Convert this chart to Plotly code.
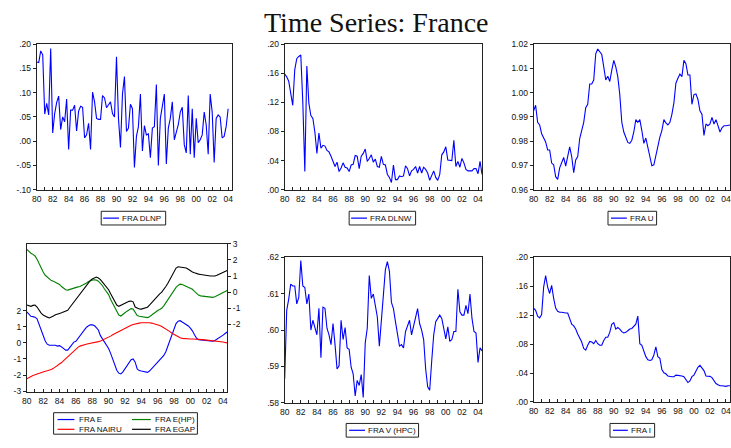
import plotly.graph_objects as go
import pandas as pd

W, H = 731, 448

quarters = pd.period_range("1980Q1", "2004Q3", freq="Q")
xq = [p.year + (p.quarter - 1) / 4 for p in quarters]

year_ticks = list(range(1980, 2005))
year_text = [str(y)[2:] if y % 2 == 0 else "" for y in year_ticks]

fra_dlnp = [.163, .162, .186, .178, .056, .078, .054, .191, .017, .057, .080, .093, .024, .050, .040, .087,
            -.017, .064, .064, .074, .021, .062, .072, .070, .007, .013, .037, -.017, .101, .081, .047, .045,
            .045, .094, .089, .069, .075, .081, .057, .050, .174, .047, -.013, .097, .133, .020, .027, .076,
            .067, -.054, .010, .030, .097, -.020, .032, .013, .015, -.034, .027, .030, .117, -.050, .047, .074,
            .097, -.047, .027, .047, .081, .003, .017, .034, .060, .070, -.007, -.024, .094, -.027, .067, -.034,
            .047, -.003, .003, .013, .060, .034, -.027, .097, .060, -.044, .047, .054, .050, .007, .010, .030,
            .067]

fra_dlnw = [.159, .155, .149, .135, .116, .165, .180, .183, .185, .120, .025, .170, .119, .102, .098, .079,
            .050, .078, .057, .061, .060, .054, .052, .046, .038, .032, .038, .025, .030, .037, .031, .030,
            .025, .034, .035, .047, .046, .029, .046, .050, .056, .039, .043, .048, .038, .042, .032, .031,
            .046, .035, .034, .021, .017, .010, .034, .014, .014, .019, .018, .019, .033, .029, .019, .026,
            .028, .032, .023, .032, .023, .031, .028, .023, .013, .021, .026, .017, .013, .021, .048, .052,
            .059, .041, .041, .040, .068, .032, .039, .031, .043, .037, .028, .026, .026, .026, .029, .029,
            .022, .039, .021]

fra_u = [.9925, .9948, .9878, .9867, .9831, .9817, .9797, .9764, .9764, .9710, .9703, .9654, .9643, .9690,
         .9713, .9733, .9697, .9744, .9777, .9737, .9670, .9723, .9737, .9811, .9851, .9878, .9938, .9952,
         1.0036, 1.0036, 1.0052, 1.0160, 1.0180, 1.0166, 1.0157, 1.0106, 1.0052, 1.0068, 1.0046, 1.0093,
         1.0133, 1.0106, 1.0066, .9992, .9878, .9838, .9817, .9795, .9791, .9804, .9838, .9889, .9878, .9889,
         .9844, .9791, .9813, .9770, .9737, .9699, .9703, .9744, .9770, .9817, .9844, .9889, .9875, .9867,
         .9878, .9911, .9958, 1.0039, 1.0059, 1.0077, 1.0066, 1.0133, 1.0119, 1.0073, 1.0073, .9952, .9992,
         .9995, .9972, .9925, .9911, .9824, .9871, .9864, .9871, .9898, .9871, .9889, .9864, .9838, .9855,
         .9864, .9864, .9864, .9867]

fra_e = [1.92, 1.75, 1.65, 1.63, 1.60, 1.50, 1.15, 0.70, 0.38, 0.12, -0.08, -0.15, -0.15, -0.13, -0.15, -0.20,
         -0.17, -0.25, -0.35, -0.45, -0.45, -0.30, -0.10, 0.05, 0.10, 0.28, 0.45, 0.62, 0.75, 0.95, 1.05, 1.12,
         1.12, 1.08, 0.95, 0.80, 0.45, 0.25, 0.05, -0.12, -0.35, -0.65, -1.00, -1.40, -1.70, -1.88, -1.93, -1.80,
         -1.60, -1.40, -1.20, -1.05, -1.00, -1.20, -1.62, -1.72, -1.75, -1.78, -1.80, -1.83, -1.75, -1.62, -1.45,
         -1.30, -1.18, -1.05, -0.93, -0.78, -0.55, -0.20, 0.15, 0.55, 0.90, 1.20, 1.35, 1.38, 1.30, 1.22, 1.15,
         1.05, 0.92, 0.75, 0.50, 0.30, 0.20, 0.18, 0.18, 0.15, 0.15, 0.12, 0.08, 0.10, 0.15, 0.22, 0.30, 0.38,
         0.48, 0.58, 0.68]

fra_nairu = [-2.23, -2.15, -2.08, -2.02, -1.98, -1.93, -1.88, -1.84, -1.80, -1.76, -1.73, -1.70, -1.65, -1.58,
             -1.50, -1.42, -1.32, -1.22, -1.10, -0.98, -0.85, -0.72, -0.58, -0.46, -0.36, -0.28, -0.20, -0.15,
             -0.11, -0.08, -0.05, -0.03, -0.01, 0.02, 0.05, 0.08, 0.12, 0.17, 0.22, 0.28, 0.35, 0.42, 0.50, 0.57,
             0.64, 0.72, 0.80, 0.87, 0.93, 0.99, 1.05, 1.10, 1.14, 1.18, 1.21, 1.23, 1.25, 1.26, 1.26, 1.26, 1.25,
             1.23, 1.20, 1.17, 1.13, 1.08, 1.02, 0.95, 0.88, 0.80, 0.70, 0.60, 0.52, 0.44, 0.38, 0.32, 0.28, 0.26,
             0.25, 0.24, 0.24, 0.24, 0.24, 0.23, 0.22, 0.21, 0.20, 0.19, 0.18, 0.17, 0.16, 0.15, 0.14, 0.12, 0.10,
             0.08, 0.06, 0.03, 0.00]

fra_e_hp = [2.66, 2.52, 2.42, 2.35, 2.25, 2.05, 1.75, 1.45, 1.25, 1.05, 0.92, 0.80, 0.72, 0.68, 0.62, 0.58, 0.48,
            0.35, 0.25, 0.15, 0.13, 0.18, 0.22, 0.28, 0.33, 0.33, 0.35, 0.40, 0.48, 0.55, 0.65, 0.72, 0.75, 0.77,
            0.75, 0.68, 0.55, 0.40, 0.20, 0.02, -0.15, -0.45, -0.70, -1.00, -1.25, -1.42, -1.48, -1.40, -1.28,
            -1.18, -1.08, -1.02, -1.05, -1.25, -1.45, -1.50, -1.52, -1.55, -1.57, -1.58, -1.52, -1.42, -1.32,
            -1.22, -1.14, -1.08, -1.00, -0.85, -0.65, -0.45, -0.25, -0.05, 0.12, 0.30, 0.42, 0.50, 0.48, 0.42,
            0.36, 0.30, 0.25, 0.18, 0.05, -0.08, -0.18, -0.23, -0.25, -0.25, -0.25, -0.27, -0.30, -0.32, -0.28,
            -0.22, -0.18, -0.12, -0.05, 0.02, 0.10]

fra_egap = [-0.80, -0.85, -0.88, -0.82, -0.80, -0.92, -1.15, -1.30, -1.42, -1.50, -1.55, -1.60, -1.55, -1.48,
            -1.40, -1.38, -1.32, -1.28, -1.22, -1.15, -1.12, -0.95, -0.78, -0.62, -0.45, -0.25, -0.10, 0.10,
            0.28, 0.45, 0.60, 0.72, 0.82, 0.90, 0.94, 0.88, 0.78, 0.62, 0.45, 0.33, 0.15, -0.10, -0.35, -0.60,
            -0.80, -0.88, -0.82, -0.72, -0.65, -0.60, -0.57, -0.55, -0.60, -0.92, -1.00, -1.04, -1.05, -1.02,
            -0.98, -0.93, -0.80, -0.65, -0.50, -0.35, -0.22, -0.10, 0.00, 0.15, 0.35, 0.55, 0.78, 1.05, 1.30,
            1.50, 1.58, 1.56, 1.54, 1.52, 1.50, 1.42, 1.32, 1.25, 1.20, 1.15, 1.12, 1.10, 1.07, 1.05, 1.04, 1.02,
            1.00, 0.98, 1.00, 1.05, 1.10, 1.15, 1.20, 1.27, 1.34]

fra_v_hpc = [.5866, .6054, .6085, .6126, .6121, .6121, .6072, .6090, .6191, .6121, .6117, .6072, .6099, .6000,
             .6027, .6009, .5987, .6060, .5924, .6063, .6060, .6005, .5987, .5960, .6018, .5960, .5893, .5902,
             .6027, .5974, .6007, .5951, .5947, .5898, .5880, .5819, .5862, .5848, .5878, .5815, .5965, .6005,
             .6150, .6087, .6099, .6068, .6036, .5956, .6032, .6090, .6166, .6188, .6161, .6076, .6059, .6023,
             .5987, .5956, .5960, .5951, .5996, .6009, .6027, .5987, .6009, .6036, .6059, .6018, .6000, .5974,
             .5893, .5844, .5835, .5915, .5987, .6023, .6032, .6041, .6032, .6005, .5976, .6009, .5969, .5974,
             .5996, .5996, .6112, .6050, .6041, .6041, .6068, .6045, .6099, .6032, .5996, .5992, .5911, .5951,
             .5943]

fra_i = [.1298, .1266, .1186, .1163, .1208, .1588, .1745, .1588, .1499, .1611, .1432, .1298, .1253, .1239,
         .1239, .1230, .1230, .1230, .1163, .1074, .1051, .1007, .0940, .0881, .0828, .0738, .0716, .0783,
         .0837, .0828, .0805, .0850, .0805, .0783, .0783, .0850, .0895, .0895, .0962, .1074, .1096, .1007,
         .1029, .1007, .0971, .0953, .0962, .0984, .1007, .1016, .1051, .1074, .1186, .0805, .0783, .0694,
         .0626, .0582, .0573, .0582, .0649, .0761, .0626, .0604, .0447, .0403, .0389, .0358, .0349, .0349,
         .0349, .0371, .0367, .0367, .0358, .0349, .0313, .0268, .0291, .0349, .0371, .0425, .0479, .0506,
         .0470, .0434, .0358, .0358, .0353, .0336, .0291, .0255, .0237, .0224, .0224, .0215, .0215, .0224,
         .0224]

BLUE, RED, GREEN, BLACK = "#0000ff", "#ff0000", "#008000", "#000000"
AX = "#222222"
TICKFONT = dict(family="Liberation Sans, Arial, sans-serif", size=8.5, color="#111")


def dx(a, b):
    return [a / W, b / W]


def dy(top, bottom):
    return [(H - bottom) / H, (H - top) / H]


fig = go.Figure()


def add(y, name, color, xa, ya):
    fig.add_trace(go.Scatter(x=xq[:len(y)], y=y, mode="lines", name=name,
                             line=dict(color=color, width=1.1), xaxis=xa, yaxis=ya,
                             showlegend=False, hoverinfo="x+y"))


add(fra_dlnp, "FRA DLNP", BLUE, "x", "y")
add(fra_dlnw, "FRA DLNW", BLUE, "x2", "y2")
add(fra_u, "FRA U", BLUE, "x3", "y3")
add(fra_e, "FRA E", BLUE, "x4", "y4")
add(fra_nairu, "FRA NAIRU", RED, "x4", "y4")
add(fra_e_hp, "FRA E(HP)", GREEN, "x4", "y7")
add(fra_egap, "FRA EGAP", BLACK, "x4", "y7")
add(fra_v_hpc, "FRA V (HPC)", BLUE, "x5", "y5")
add(fra_i, "FRA I", BLUE, "x6", "y6")

panels = {
    1: dict(x=(32, 229), y=(40, 189)),
    2: dict(x=(282, 481), y=(40, 189)),
    3: dict(x=(533, 731), y=(40, 189)),
    4: dict(x=(22, 224), y=(244, 396)),
    5: dict(x=(282, 481), y=(258, 407)),
    6: dict(x=(533, 731), y=(258, 406)),
}

yspec = {
    1: dict(range=[-0.10, 0.20], tickvals=[-.10, -.05, 0, .05, .10, .15, .20],
            ticktext=["-.10", "-.05", ".00", ".05", ".10", ".15", ".20"]),
    2: dict(range=[0, 0.20], tickvals=[0, .04, .08, .12, .16, .20],
            ticktext=[".00", ".04", ".08", ".12", ".16", ".20"]),
    3: dict(range=[0.96, 1.02], tickvals=[.96, .97, .98, .99, 1.00, 1.01, 1.02],
            ticktext=["0.96", "0.97", "0.98", "0.99", "1.00", "1.01", "1.02"]),
    4: dict(range=[-3.06, 6.17], tickvals=[-3, -2, -1, 0, 1, 2],
            ticktext=["-3", "-2", "-1", "0", "1", "2"]),
    5: dict(range=[0.58, 0.62], tickvals=[.58, .59, .60, .61, .62],
            ticktext=[".58", ".59", ".60", ".61", ".62"]),
    6: dict(range=[0, 0.20], tickvals=[0, .04, .08, .12, .16, .20],
            ticktext=[".00", ".04", ".08", ".12", ".16", ".20"]),
}

layout = dict(width=W, height=H, margin=dict(l=0, r=0, t=0, b=0),
              paper_bgcolor="white", plot_bgcolor="white", showlegend=False)

for k, p in panels.items():
    sx = "" if k == 1 else str(k)
    layout["xaxis" + sx] = dict(domain=dx(*p["x"]), anchor="y" + sx, range=[xq[0], xq[-1]],
                               tickmode="array", tickvals=year_ticks, ticktext=year_text,
                               ticks="inside", ticklen=3, tickcolor=AX, tickwidth=1,
                               showline=True, mirror=True, linecolor=AX, linewidth=1,
                               showgrid=False, zeroline=False, tickfont=TICKFONT, ticklabelstandoff=1)
    layout["yaxis" + sx] = dict(domain=dy(*p["y"]), anchor="x" + sx, tickmode="array",
                               ticks="outside", ticklen=3, tickcolor=AX, tickwidth=1,
                               showline=True, mirror=True, linecolor=AX, linewidth=1,
                               showgrid=False, zeroline=False, tickfont=TICKFONT, **yspec[k])

layout["yaxis7"] = dict(overlaying="y4", anchor="x4", side="right", range=[-6.21, 3.02],
                        tickmode="array", tickvals=[-2, -1, 0, 1, 2, 3],
                        ticktext=["-2", "-1", "0", "1", "2", "3"],
                        ticks="outside", ticklen=3, tickcolor=AX, tickwidth=1,
                        showline=True, linecolor=AX, linewidth=1,
                        showgrid=False, zeroline=False, tickfont=TICKFONT)

fig.update_layout(**layout)

# title
fig.add_annotation(text="Time Series: France", x=375 / W, y=(H - 18) / H, xref="paper", yref="paper",
                   xanchor="center", yanchor="middle", showarrow=False,
                   font=dict(family="Liberation Serif, Times New Roman, serif", size=28, color="#111"))

# legend boxes (drawn as boxes with line samples and text)
LEGFONT = dict(family="Liberation Sans, Arial, sans-serif", size=8, color="#111")
legends = [
    dict(box=(97, 211, 162, 225), items=[(99, 115, 218, 116, "FRA DLNP", BLUE)]),
    dict(box=(347, 211, 414, 225), items=[(349, 365, 218, 366, "FRA DLNW", BLUE)]),
    dict(box=(608, 211, 657, 225), items=[(611, 627, 218, 628, "FRA U", BLUE)]),
    dict(box=(49, 417, 194, 439), items=[(53, 70, 424, 73, "FRA E", BLUE),
                                         (128, 147, 424, 149, "FRA E(HP)", GREEN),
                                         (53, 70, 434, 73, "FRA NAIRU", RED),
                                         (128, 147, 434, 149, "FRA EGAP", BLACK)]),
    dict(box=(344, 428, 417, 442), items=[(347, 363, 435, 364, "FRA V (HPC)", BLUE)]),
    dict(box=(610, 428, 655, 442), items=[(613, 628, 435, 629, "FRA I", BLUE)]),
]
for lg in legends:
    x0, y0, x1, y1 = lg["box"]
    fig.add_shape(type="rect", xref="paper", yref="paper", x0=x0 / W, x1=x1 / W,
                  y0=(H - y1) / H, y1=(H - y0) / H, line=dict(color=AX, width=1),
                  fillcolor="white", layer="below")
    for lx0, lx1, ly, tx, txt, col in lg["items"]:
        fig.add_shape(type="line", xref="paper", yref="paper", x0=lx0 / W, x1=lx1 / W,
                      y0=(H - ly) / H, y1=(H - ly) / H, line=dict(color=col, width=1.2))
        fig.add_annotation(text=txt, x=tx / W, y=(H - ly) / H, xref="paper", yref="paper",
                           xanchor="left", yanchor="middle", showarrow=False, font=LEGFONT)

fig.write_html("out.html")
